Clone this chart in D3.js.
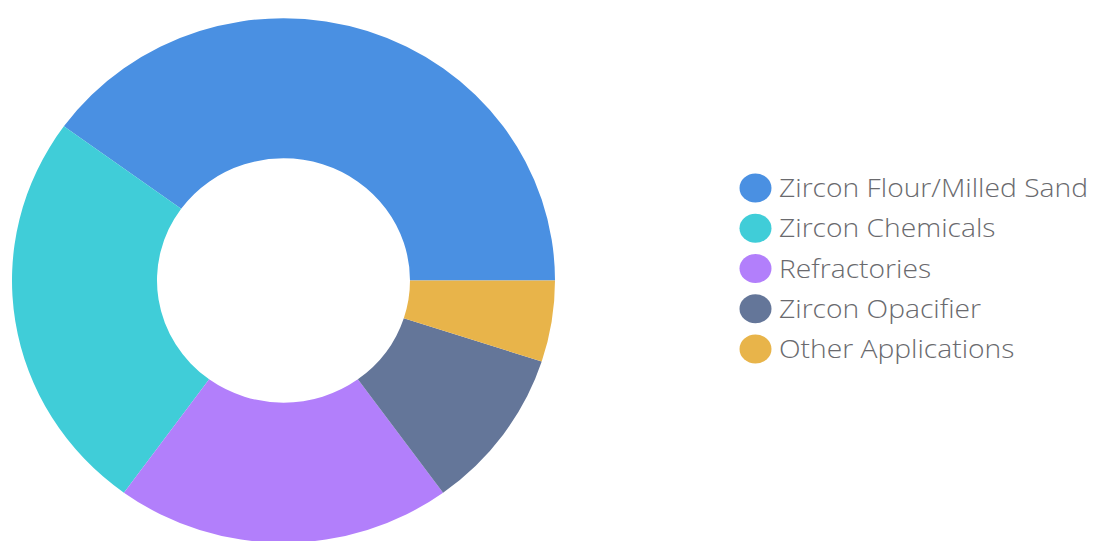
<!DOCTYPE html>
<html>
<head>
<meta charset="utf-8">
<script src="https://cdn.jsdelivr.net/npm/d3@7"></script>
<style>
  html, body { margin: 0; padding: 0; background: #ffffff; }
  svg { display: block; }
</style>
</head>
<body>
<svg id="chart" width="1093" height="541"></svg>
<script>
// Zircon market share by application (%)
const categories = [
  "Zircon Flour/Milled Sand",
  "Zircon Chemicals",
  "Refractories",
  "Zircon Opacifier",
  "Other Applications"
];
const shares = [40, 25, 20, 10, 5];
const colors = ["#4a90e2", "#40cdd8", "#b27ffb", "#647699", "#e8b44a"];

const svg = d3.select("#chart");

const color = d3.scaleOrdinal().domain(categories).range(colors);

// Donut: slices run counter-clockwise from the 3 o'clock position
const pie = d3.pie()
  .sort(null)
  .value(d => d.value)
  .startAngle(Math.PI / 2)
  .endAngle(Math.PI / 2 - 2 * Math.PI);

const arc = d3.arc()
  .innerRadius(126.5)
  .outerRadius(271.5);

const data = categories.map((c, i) => ({ name: c, value: shares[i] }));

const donut = svg.append("g")
  .attr("transform", "translate(283.5,280.5) scale(1,0.966)");

donut.selectAll("path")
  .data(pie(data))
  .join("path")
  .attr("d", arc)
  .attr("fill", d => color(d.data.name));

// Legend
const legendY = d3.scalePoint()
  .domain(categories)
  .range([188, 349]);

const legend = svg.append("g");

const item = legend.selectAll("g")
  .data(categories)
  .join("g")
  .attr("transform", d => `translate(0,${legendY(d)})`);

item.append("ellipse")
  .attr("cx", 755.5)
  .attr("cy", 0)
  .attr("rx", 16)
  .attr("ry", 14.5)
  .attr("fill", d => color(d));

// Wide, light face for the legend labels
item.append("text")
  .attr("transform", "translate(779,0) scale(1.13,1)")
  .attr("dy", "0.36em")
  .attr("fill", "#6a6a6e")
  .style("font-family", "'Open Sans', Lato, sans-serif")
  .style("font-weight", 300)
  .style("font-size", "25px")
  .text(d => d);
</script>
</body>
</html>
